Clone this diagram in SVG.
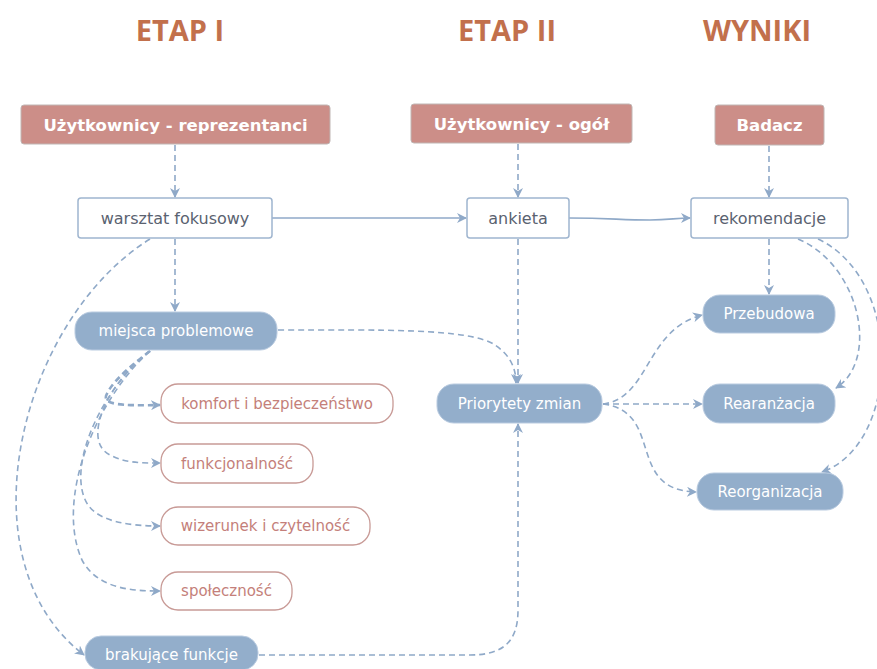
<svg xmlns="http://www.w3.org/2000/svg" width="877" height="669" viewBox="0 0 877 669">
<defs>
<marker id="ar" viewBox="0 0 10 10" refX="9" refY="5" markerWidth="10" markerHeight="10" markerUnits="userSpaceOnUse" orient="auto">
<path d="M0,0 L10,5 L0,10 L3,5 Z" fill="#8fa9c8"/>
</marker>
<style>
.title{font-family:"Open Sans","DejaVu Sans",sans-serif;font-weight:bold;font-size:29px;fill:#c2704c;text-anchor:middle}
.hdr rect{fill:#cc8e88;stroke:#c0b6b4;stroke-width:1}
.hdr text{font-family:"DejaVu Sans",sans-serif;font-weight:bold;font-size:16.5px;fill:#fff;text-anchor:middle}
.box rect{fill:#fff;stroke:#9fb5cf;stroke-width:1.5}
.box text{font-family:"DejaVu Sans",sans-serif;font-size:16px;fill:#5a6270;text-anchor:middle}
.pill rect{fill:#93aecb;stroke:#b9cbe0;stroke-width:1}
.pill text{font-family:"DejaVu Sans",sans-serif;font-size:15px;fill:#fff;text-anchor:middle}
.opill rect{fill:#fff;stroke:#c89a96;stroke-width:1.3}
.opill text{font-family:"DejaVu Sans",sans-serif;font-size:15px;fill:#c47f7a;text-anchor:middle}
.c{fill:none;stroke:#8fa9c8;stroke-width:1.6}
.d{stroke-dasharray:6,4}
.t{stroke-width:2.6}
</style>
</defs>
<rect width="877" height="669" fill="#fff"/>
<text class="title" x="180" y="41">ETAP I</text>
<text class="title" x="507" y="41">ETAP II</text>
<text class="title" x="757" y="41">WYNIKI</text>

<g id="connectors">
<path class="c d" d="M175,145 L175,197" marker-end="url(#ar)"/>
<path class="c d" d="M518,144 L518,197" marker-end="url(#ar)"/>
<path class="c d" d="M769,146 L769,197" marker-end="url(#ar)"/>
<path class="c" d="M272,218 L466,218" marker-end="url(#ar)"/>
<path class="c" d="M569,218 C610,218 620,220 650,220 C670,220 675,218 690,218" marker-end="url(#ar)"/>
<path class="c d" d="M175,239 L175,311" marker-end="url(#ar)"/>
<path class="c d" d="M518,239 L518,383" marker-end="url(#ar)"/>
<path class="c d" d="M278,330 C380,330 470,328 495,345 C510,355 516,368 516,383" marker-end="url(#ar)"/>
<path class="c d" d="M259,655 L470,655 C505,655 518,640 518,610 L518,424" marker-end="url(#ar)"/>
<path class="c d" d="M150,239 C20,320 -40,560 84,655" marker-end="url(#ar)"/>
<path class="c d t" d="M150,351 C125,370 110,385 106,396 C104,404 118,406 160,405" marker-end="url(#ar)"/>
<path class="c d" d="M150,351 C110,380 80,440 110,455 C125,463 140,463 160,463" marker-end="url(#ar)"/>
<path class="c d" d="M150,351 C100,390 65,470 88,505 C100,522 130,526 160,526" marker-end="url(#ar)"/>
<path class="c d" d="M150,351 C95,400 55,500 82,560 C98,590 135,591 160,591" marker-end="url(#ar)"/>
<path class="c d" d="M603,404 C650,398 645,330 702,315" marker-end="url(#ar)"/>
<path class="c d" d="M603,404 L702,404" marker-end="url(#ar)"/>
<path class="c d" d="M603,404 C665,412 625,490 696,492" marker-end="url(#ar)"/>
<path class="c d" d="M769,239 L769,294" marker-end="url(#ar)"/>
<path class="c d" d="M798,239 C860,265 880,360 836,388" marker-end="url(#ar)"/>
<path class="c d" d="M818,239 C905,280 900,445 822,472" marker-end="url(#ar)"/>
</g>

<g id="n-reprezentanci" class="hdr"><rect x="21" y="105" width="309" height="39" rx="3"/><text x="175.5" y="130.5">Użytkownicy - reprezentanci</text></g>
<g id="n-ogol" class="hdr"><rect x="411" y="104" width="221" height="39" rx="3"/><text x="521.5" y="129.5">Użytkownicy - ogół</text></g>
<g id="n-badacz" class="hdr"><rect x="715" y="105" width="109" height="40" rx="3"/><text x="769.5" y="131">Badacz</text></g>

<g id="n-warsztat" class="box"><rect x="78" y="198" width="194" height="40" rx="3"/><text x="175" y="223.5">warsztat fokusowy</text></g>
<g id="n-ankieta" class="box"><rect x="467" y="198" width="102" height="40" rx="3"/><text x="518" y="223.5">ankieta</text></g>
<g id="n-rekomendacje" class="box"><rect x="691" y="198" width="157" height="40" rx="3"/><text x="769.5" y="223.5">rekomendacje</text></g>

<g id="n-miejsca" class="pill"><rect x="75" y="312" width="202" height="38" rx="17"/><text x="176" y="336">miejsca problemowe</text></g>
<g id="n-brakujace" class="pill"><rect x="85" y="636" width="173" height="34" rx="16"/><text x="171.5" y="660">brakujące funkcje</text></g>
<g id="n-priorytety" class="pill"><rect x="437" y="384" width="165" height="39" rx="17"/><text x="519.5" y="409">Priorytety zmian</text></g>
<g id="n-przebudowa" class="pill"><rect x="703" y="295" width="132" height="38" rx="17"/><text x="769" y="319">Przebudowa</text></g>
<g id="n-rearanzacja" class="pill"><rect x="703" y="384" width="132" height="39" rx="17"/><text x="769" y="409">Rearanżacja</text></g>
<g id="n-reorganizacja" class="pill"><rect x="697" y="473" width="146" height="37" rx="17"/><text x="770" y="497">Reorganizacja</text></g>

<g id="n-komfort" class="opill"><rect x="161" y="384" width="232" height="39" rx="17"/><text x="277" y="409">komfort i bezpieczeństwo</text></g>
<g id="n-funkcjonalnosc" class="opill"><rect x="161" y="444" width="152" height="39" rx="17"/><text x="237" y="469">funkcjonalność</text></g>
<g id="n-wizerunek" class="opill"><rect x="161" y="507" width="209" height="38" rx="17"/><text x="265.5" y="531">wizerunek i czytelność</text></g>
<g id="n-spolecznosc" class="opill"><rect x="161" y="572" width="131" height="38" rx="17"/><text x="226.5" y="596">społeczność</text></g>
</svg>
